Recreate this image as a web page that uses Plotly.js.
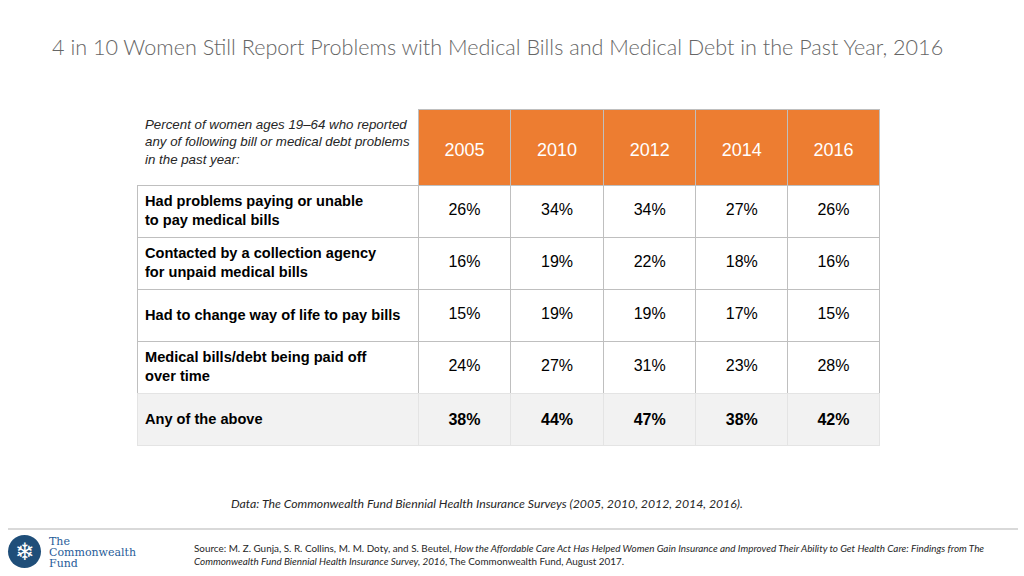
<!DOCTYPE html>
<html><head><meta charset="utf-8">
<script src="https://cdn.plot.ly/plotly-3.0.1.min.js"></script>
<style>html,body{margin:0;padding:0;background:#fff}#chart{width:1024px;height:576px}</style>
</head><body><div id="chart"></div>
<script>
const headerNote = 'Percent of women ages 19–64 who reported<br>any of following bill or medical debt problems<br>in the past year:';
const years = ['2005', '2010', '2012', '2014', '2016'];
const problems = [
  'Had problems paying or unable<br>to pay medical bills',
  'Contacted by a collection agency<br>for unpaid medical bills',
  'Had to change way of life to pay bills',
  'Medical bills/debt being paid off<br>over time',
  'Any of the above'
];
const v2005 = [26, 16, 15, 24, 38];
const v2010 = [34, 19, 19, 27, 44];
const v2012 = [34, 22, 19, 31, 47];
const v2014 = [27, 18, 17, 23, 38];
const v2016 = [26, 16, 15, 28, 42];
const seriesByYear = [v2005, v2010, v2012, v2014, v2016];

const ORANGE = '#ED7D31', GRID = '#BFBFBF', TOTAL_FILL = '#F2F2F2', TOTAL_LINE = '#E4E4E4';
const CLEAR = 'rgba(0,0,0,0)';
const FAMILY = 'Liberation Sans, Arial, sans-serif';
const nRows = problems.length;
const isTotal = i => i === nRows - 1;
const isTwoLine = s => s.indexOf('<br>') >= 0;

const DOMAIN_X = [137 / 1024, 879 / 1024];
const TOP = 109, BOTTOM = 446, TEXT_SHIFT = 10;
const colWidths = [281, 92, 93, 92, 92, 91];
const aligns = ['left'].concat(years.map(() => 'center'));

const fillCol = problems.map((p, i) => isTotal(i) ? TOTAL_FILL : '#FFFFFF');
const lineCol = problems.map((p, i) => isTotal(i) ? TOTAL_LINE : GRID);

// base table: grid, fills, header and the two-line labels
const baseLabels = problems.map(p => isTwoLine(p) ? '<b>' + p + '</b>' : '');
const baseTable = {
  type: 'table',
  domain: {x: DOMAIN_X, y: [1 - BOTTOM / 576, 1 - TOP / 576]},
  columnwidth: colWidths,
  header: {
    values: [['<i>' + headerNote + '</i>']].concat(years.map(y => ['\u00a0<br>' + y])),
    align: aligns,
    height: 76,
    fill: {color: [CLEAR].concat(years.map(() => ORANGE))},
    line: {color: [CLEAR].concat(years.map(() => GRID)), width: 1},
    font: {family: FAMILY, size: [13.3].concat(years.map(() => 18)),
           color: ['#262626'].concat(years.map(() => '#FFFFFF'))}
  },
  cells: {
    values: [baseLabels].concat(years.map(() => problems.map(() => ''))),
    align: aligns,
    height: 52,
    fill: {color: [fillCol].concat(years.map(() => fillCol))},
    line: {color: [lineCol].concat(years.map(() => lineCol)), width: 1},
    font: {family: FAMILY, size: 14.6, color: '#000000'}
  }
};

// overlay table: the one-line texts (values and one-line labels), centred in their rows
const overlayLabels = problems.map(p => isTwoLine(p) ? '' : '<b>' + p + '</b>');
const valueCols = seriesByYear.map(arr => arr.map((v, i) => isTotal(i) ? '<b>' + v + '%</b>' : v + '%'));
const overlayTable = {
  type: 'table',
  domain: {x: DOMAIN_X, y: [1 - (BOTTOM + TEXT_SHIFT) / 576, 1 - (TOP + TEXT_SHIFT) / 576]},
  columnwidth: colWidths,
  header: {
    values: [['']].concat(years.map(() => [''])),
    height: 76,
    fill: {color: CLEAR},
    line: {color: CLEAR, width: 0}
  },
  cells: {
    values: [overlayLabels].concat(valueCols),
    align: aligns,
    height: 52,
    fill: {color: CLEAR},
    line: {color: CLEAR, width: 0},
    font: {family: FAMILY, size: [14.6].concat(years.map(() => 16)), color: '#000000'}
  }
};

const layout = {
  width: 1024, height: 576,
  margin: {l: 0, r: 0, t: 0, b: 0},
  paper_bgcolor: '#FFFFFF',
  showlegend: false,
  title: {
    text: '4 in 10 Women Still Report Problems with Medical Bills and Medical Debt in the Past Year, 2016',
    x: 52 / 1024, xanchor: 'left', xref: 'paper',
    y: 1 - 47 / 576, yanchor: 'middle', yref: 'paper',
    font: {family: 'Lato, sans-serif', weight: 300, size: 21.6, color: '#666666'}
  },
  shapes: [
    {type: 'line', xref: 'paper', yref: 'paper', x0: 8 / 1024, x1: 1018 / 1024, y0: 1 - 529 / 576, y1: 1 - 529 / 576,
     line: {color: '#D9D9D9', width: 2}},
    {type: 'circle', xref: 'paper', yref: 'paper', x0: 8 / 1024, x1: 41 / 1024, y0: 1 - 568 / 576, y1: 1 - 535 / 576,
     fillcolor: '#1F4E79', line: {width: 0}}
  ],
  annotations: [
    {text: '<i>Data: The Commonwealth Fund Biennial Health Insurance Surveys (2005, 2010, 2012, 2014, 2016).</i>',
     xref: 'paper', yref: 'paper', x: 487 / 1024, y: 1 - 503 / 576, xanchor: 'center', yanchor: 'middle',
     showarrow: false, font: {family: 'Lato, sans-serif', size: 12.25, color: '#262626'}},
    {text: 'Source: M. Z. Gunja, S. R. Collins, M. M. Doty, and S. Beutel, <i>How the Affordable Care Act Has Helped Women Gain Insurance and Improved Their Ability to Get Health Care: Findings from The</i>',
     xref: 'paper', yref: 'paper', x: 192 / 1024, y: 1 - 548 / 576, xanchor: 'left', yanchor: 'middle',
     showarrow: false, font: {family: 'Lato, sans-serif', size: 9.9, color: '#262626'}},
    {text: '<i>Commonwealth Fund Biennial Health Insurance Survey, 2016</i>, The Commonwealth Fund, August 2017.',
     xref: 'paper', yref: 'paper', x: 192 / 1024, y: 1 - 561 / 576, xanchor: 'left', yanchor: 'middle',
     showarrow: false, font: {family: 'Lato, sans-serif', size: 9.9, color: '#262626'}},
    {text: '❄', xref: 'paper', yref: 'paper', x: 24.5 / 1024, y: 1 - 551.5 / 576, xanchor: 'center', yanchor: 'middle',
     showarrow: false, font: {family: 'DejaVu Sans, sans-serif', size: 24, color: '#FFFFFF'}},
    {text: 'The', xref: 'paper', yref: 'paper', x: 47 / 1024, y: 1 - 541 / 576, xanchor: 'left', yanchor: 'middle',
     showarrow: false, font: {family: 'DejaVu Serif, serif', size: 11, color: '#1F5C99'}},
    {text: 'Commonwealth', xref: 'paper', yref: 'paper', x: 47 / 1024, y: 1 - 552 / 576, xanchor: 'left', yanchor: 'middle',
     showarrow: false, font: {family: 'DejaVu Serif, serif', size: 11, color: '#1F5C99'}},
    {text: 'Fund', xref: 'paper', yref: 'paper', x: 47 / 1024, y: 1 - 563 / 576, xanchor: 'left', yanchor: 'middle',
     showarrow: false, font: {family: 'DejaVu Serif, serif', size: 11, color: '#1F5C99'}}
  ]
};

Plotly.newPlot('chart', [baseTable, overlayTable], layout, {staticPlot: true, displayModeBar: false});
</script></body></html>
